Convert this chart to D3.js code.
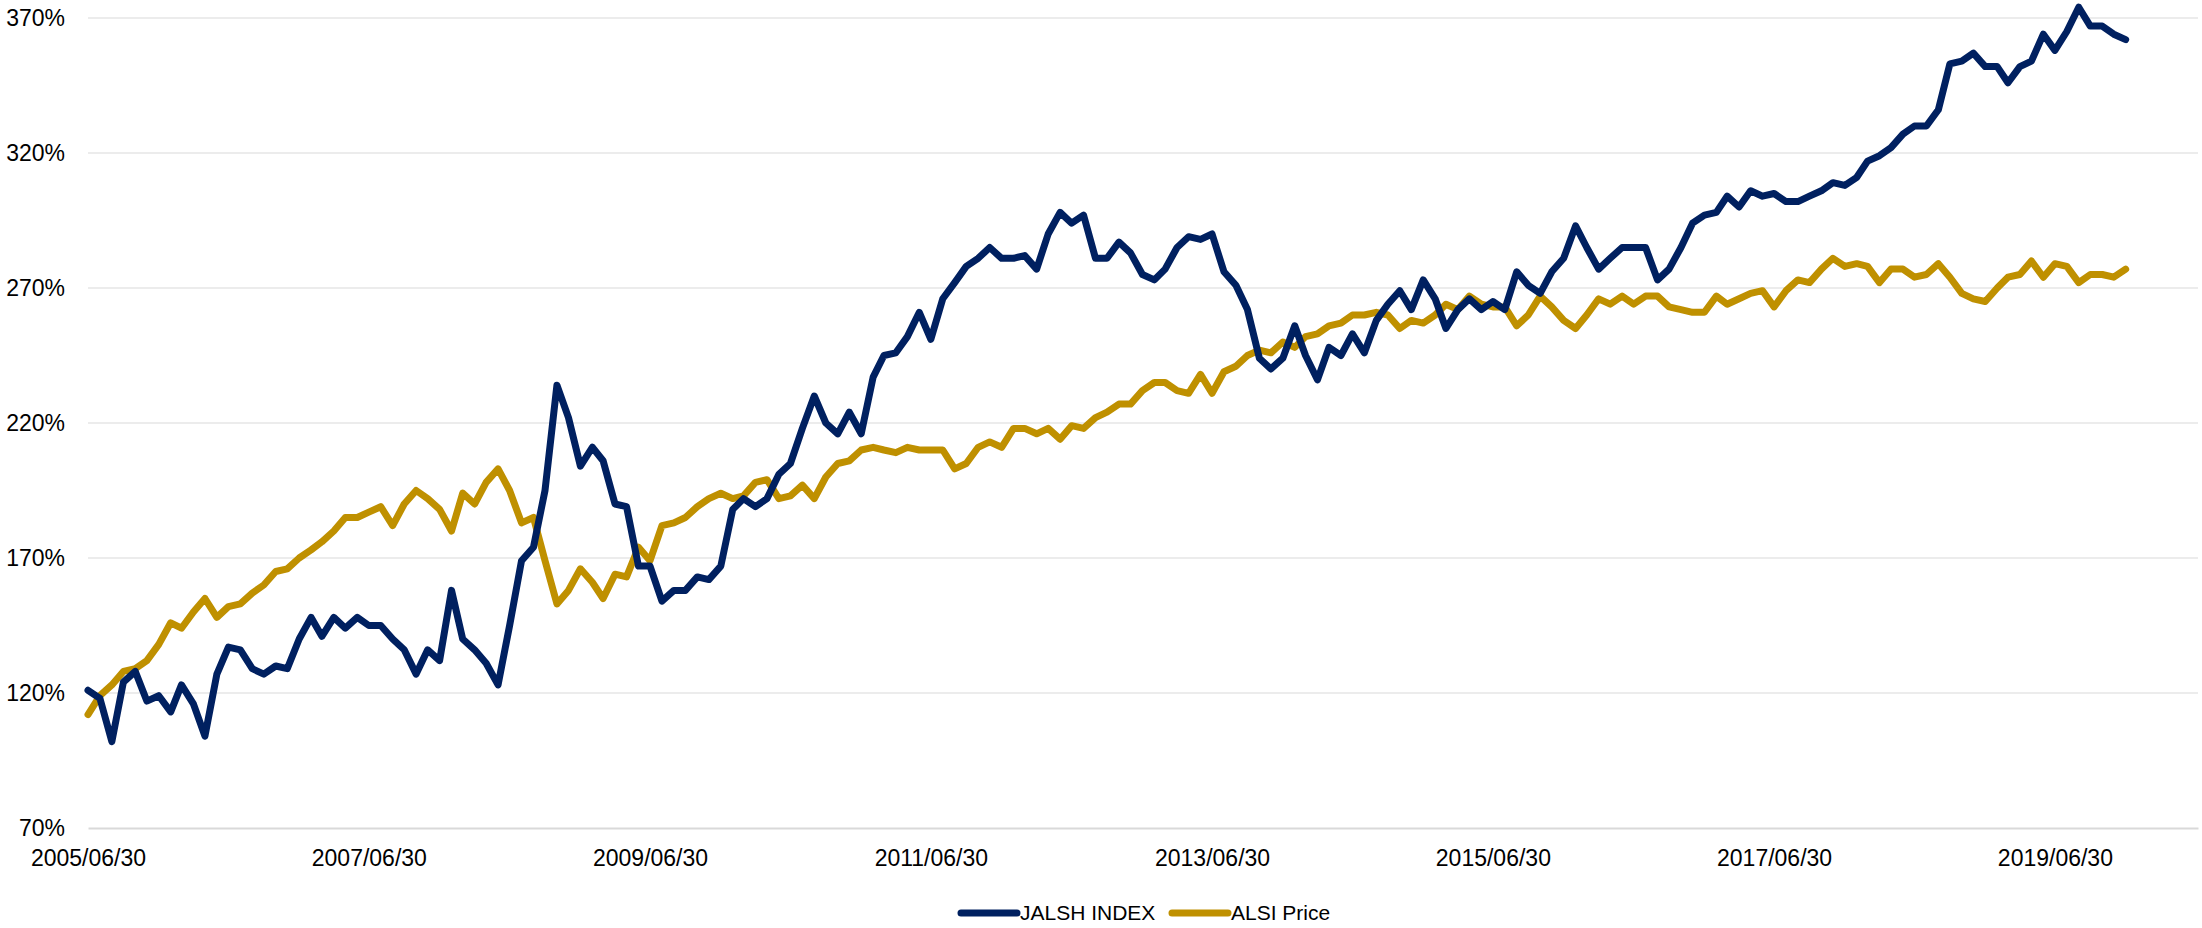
<!DOCTYPE html>
<html>
<head>
<meta charset="utf-8">
<script src="https://cdn.jsdelivr.net/npm/d3@7"></script>
<style>
  html, body { margin: 0; padding: 0; background: #fff; }
  svg text { font-family: "Liberation Sans", Arial, sans-serif; fill: #000; }
</style>
</head>
<body>
<div id="chart"></div>
<script>
// month-end readings, first point 2005/06/30
const jalsh = [
  121, 118, 102, 124, 128, 117, 119, 113, 123, 116,
  104, 127, 137, 136, 129, 127, 130, 129, 140, 148,
  141, 148, 144, 148, 145, 145, 140, 136, 127, 136,
  132, 158, 140, 136, 131, 123, 145, 169, 174, 195,
  234, 222, 204, 211, 206, 190, 189, 167, 167, 154,
  158, 158, 163, 162, 167, 188, 192, 189, 192, 201,
  205, 218, 230, 220, 216, 224, 216, 237, 245, 246,
  252, 261, 251, 266, 272, 278, 281, 285, 281, 281,
  282, 277, 290, 298, 294, 297, 281, 281, 287, 283,
  275, 273, 277, 285, 289, 288, 290, 276, 271, 262,
  244, 240, 244, 256, 245, 236, 248, 245, 253, 246,
  258, 264, 269, 262, 273, 266, 255, 262, 266, 262,
  265, 262, 276, 271, 268, 276, 281, 293, 285, 277,
  281, 285, 285, 285, 273, 277, 285, 294, 297, 298,
  304, 300, 306, 304, 305, 302, 302, 304, 306, 309,
  308, 311, 317, 319, 322, 327, 330, 330, 336, 353,
  354, 357, 352, 352, 346, 352, 354, 364, 358, 365,
  374, 367, 367, 364, 362
];

const alsi = [
  112, 119, 123, 128, 129, 132, 138, 146, 144, 150,
  155, 148, 152, 153, 157, 160, 165, 166, 170, 173,
  176, 180, 185, 185, 187, 189, 182, 190, 195, 192,
  188, 180, 194, 190, 198, 203, 195, 183, 185, 169,
  153, 158, 166, 161, 155, 164, 163, 174, 169, 182,
  183, 185, 189, 192, 194, 192, 193, 198, 199, 192,
  193, 197, 192, 200, 205, 206, 210, 211, 210, 209,
  211, 210, 210, 210, 203, 205, 211, 213, 211, 218,
  218, 216, 218, 214, 219, 218, 222, 224, 227, 227,
  232, 235, 235, 232, 231, 238, 231, 239, 241, 245,
  247, 246, 250, 248, 252, 253, 256, 257, 260, 260,
  261, 260, 255, 258, 257, 260, 264, 262, 267, 264,
  263, 263, 256, 260, 267, 263, 258, 255, 260, 266,
  264, 267, 264, 267, 267, 263, 262, 261, 261, 267,
  264, 266, 268, 269, 263, 269, 273, 272, 277, 281,
  278, 279, 278, 272, 277, 277, 274, 275, 279, 274,
  268, 266, 265, 270, 274, 275, 280, 274, 279, 278,
  272, 275, 275, 274, 277
];

const yTicks = [70, 120, 170, 220, 270, 320, 370];
const xTickYears = [2005, 2007, 2009, 2011, 2013, 2015, 2017, 2019];
const seriesNames = ['JALSH INDEX', 'ALSI Price'];
const seriesColors = ['#002060', '#bf9000'];

const width = 2202, height = 928;
const margin = { left: 88, right: 4, top: 18, bottom: 100 };

const svg = d3.select('#chart').append('svg')
  .attr('width', width)
  .attr('height', height);

const x = d3.scaleTime()
  .domain([new Date(2005, 5, 30), new Date(2020, 6, 6)])
  .range([margin.left, width - margin.right]);

const y = d3.scaleLinear()
  .domain([70, 370])
  .range([height - margin.bottom, margin.top]);

// gridlines
svg.append('g')
  .selectAll('line')
  .data(yTicks.filter(d => d !== 70))
  .enter()
  .append('line')
  .attr('x1', x.range()[0])
  .attr('x2', x.range()[1])
  .attr('y1', d => y(d))
  .attr('y2', d => y(d))
  .attr('stroke', '#ececec')
  .attr('stroke-width', 2);

// y axis labels
const yAxis = d3.axisLeft(y)
  .tickValues(yTicks)
  .tickFormat(d => d + '%')
  .tickSize(0)
  .tickPadding(23);

svg.append('g')
  .attr('transform', `translate(${margin.left},0)`)
  .call(yAxis)
  .call(g => g.select('.domain').remove())
  .call(g => g.selectAll('text').attr('font-size', '23px').attr('fill', '#000'));

// x axis
const xAxis = d3.axisBottom(x)
  .tickValues(xTickYears.map(yr => new Date(yr, 5, 30)))
  .tickFormat(d3.timeFormat('%Y/%m/%d'))
  .tickSize(0)
  .tickPadding(22);

svg.append('g')
  .attr('transform', `translate(0,${y(70)})`)
  .call(xAxis)
  .call(g => g.select('.domain')
    .attr('stroke', '#d9d9d9')
    .attr('stroke-width', 2))
  .call(g => g.selectAll('text').attr('font-size', '23px').attr('fill', '#000'));

// series lines, one point per month end
const monthEnd = i => new Date(2005, 6 + i, 0);

const line = d3.line()
  .x((d, i) => x(monthEnd(i)))
  .y(d => y(d));

[alsi, jalsh].forEach((values, k) => {
  svg.append('path')
    .datum(values)
    .attr('fill', 'none')
    .attr('stroke', k === 0 ? seriesColors[1] : seriesColors[0])
    .attr('stroke-width', 7)
    .attr('stroke-linejoin', 'round')
    .attr('stroke-linecap', 'round')
    .attr('d', line);
});

// legend
const legendX = [961, 1172];
const legend = svg.append('g')
  .attr('transform', `translate(0, 913)`);

seriesNames.forEach((name, i) => {
  legend.append('line')
    .attr('x1', legendX[i])
    .attr('x2', legendX[i] + 56)
    .attr('y1', 0)
    .attr('y2', 0)
    .attr('stroke', seriesColors[i])
    .attr('stroke-width', 7)
    .attr('stroke-linecap', 'round');

  legend.append('text')
    .attr('x', legendX[i] + 59)
    .attr('y', 0)
    .attr('dy', '0.35em')
    .attr('font-size', '21px')
    .text(name);
});
</script>
</body>
</html>
